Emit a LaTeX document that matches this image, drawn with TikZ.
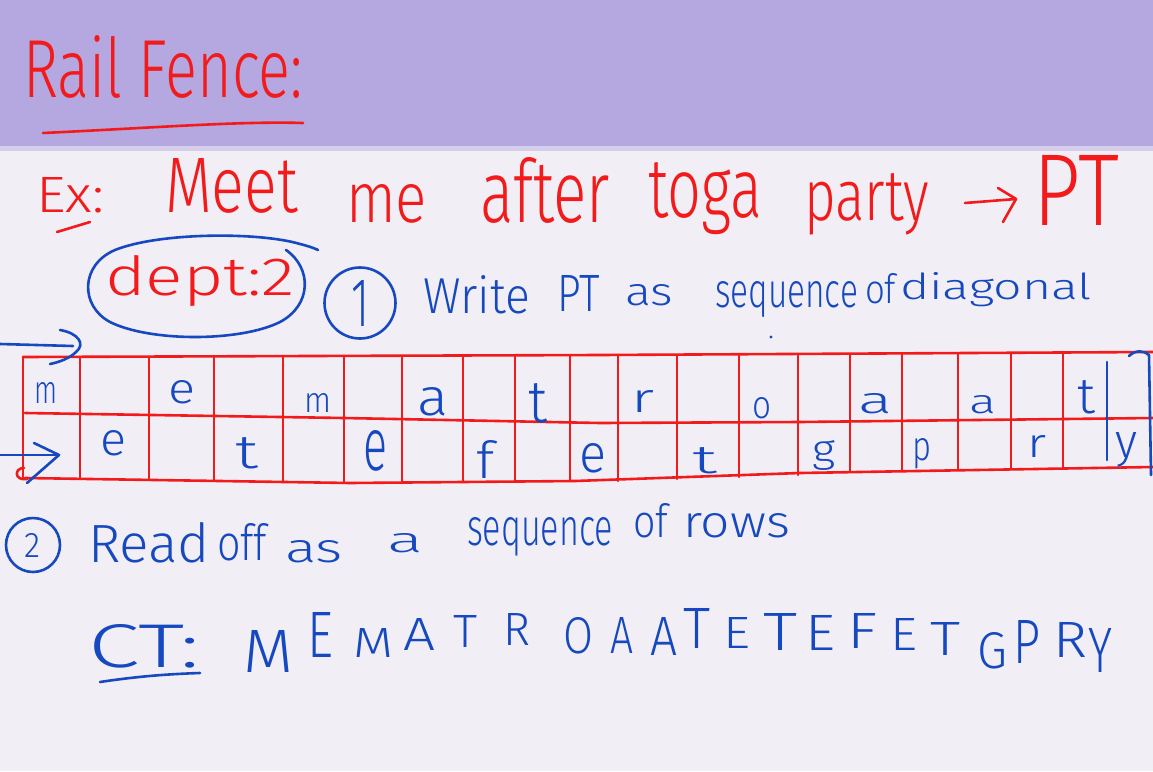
\documentclass[tikz,border=0pt]{standalone}
\usepackage{fontspec}
\usepackage{graphicx}
\IfFontExistsTF{Fira Sans Light}{\newfontfamily\hand{Fira Sans Light}}{%
  \IfFontExistsTF{Fira Sans ExtraLight}{\newfontfamily\hand{Fira Sans ExtraLight}}{\newfontfamily\hand{Fira Sans}}}
\definecolor{paper}{RGB}{241,239,245}
\definecolor{band}{RGB}{181,167,223}
\definecolor{rpen}{RGB}{242,26,26}
\definecolor{bpen}{RGB}{22,72,192}
\newcommand\hw[3]{\resizebox{#1pt}{#2pt}{\hand #3}}
\tikzset{
  every node/.style={inner sep=0pt, outer sep=0pt},
  redtxt/.style={text=rpen, anchor=base west},
  bluetxt/.style={text=bpen, anchor=base west},
  rline/.style={draw=rpen, line width=2.6pt, line cap=round, line join=round},
  bline/.style={draw=bpen, line width=2.6pt, line cap=round, line join=round},
  ring/.style={circle, draw=bpen, line width=2.6pt, text=bpen}
}
\begin{document}
\begin{tikzpicture}[x=1pt,y=-1pt]
\useasboundingbox (0,0) rectangle (1153,771);
% paper and header band
\fill[paper] (0,0) rectangle (1153,771);
\fill[band] (0,0) rectangle (1153,146);
\fill[band!45!paper] (0,146) rectangle (1153,151);

% title
\node[redtxt] (rail) at (23,97) {\hw{280}{62}{Rail Fence:}};
\draw[rline] (43,133) .. controls (150,128) and (240,121) .. (303,123);

% example line
\node[redtxt] (ex) at (36,212) {\hw{68}{35}{Ex:}};
\draw[rline] (57,232) -- (90,222);
\node[redtxt] (meet) at (165,212) {\hw{133}{54}{Meet}};
\node[redtxt] (me) at (346,222) {\hw{81}{38}{me}};
\node[redtxt] (after) at (480,222) {\hw{130}{65}{after}};
\node[redtxt] (toga) at (648,217) {\hw{114}{55}{toga}};
\node[redtxt] (party) at (804,220) {\hw{125}{47}{party}};
\node[redtxt] (pt) at (1033,225) {\hw{86}{70}{PT}};
\coordinate (arA) at (965,203);
\coordinate (arB) at (1016,199);
\draw[rline] (arA) -- (arB);
\draw[rline] (998,188) -- (arB) -- (1003,222);

% depth ellipse
\node[redtxt] (dept) at (105,295) {\hw{190}{40}{dept:2}};
\draw[bline] (286,250) .. controls (312,268) and (312,305) .. (280,322)
  .. controls (240,342) and (150,342) .. (110,322)
  .. controls (80,306) and (80,265) .. (115,250)
  .. controls (160,232) and (260,232) .. (300,244)
  .. controls (308,246) and (314,248) .. (318,250);

% step 1
\node[ring, minimum size=71pt] (one) at (360,303) {\hw{18}{46}{1}};
\node[bluetxt] (w1) at (423,313) {\hw{107}{38}{Write}};
\node[bluetxt] (w2) at (557,311) {\hw{43}{36}{PT}};
\node[bluetxt] (w3) at (625,305) {\hw{48}{21}{as}};
\node[bluetxt] (w4) at (715,307) {\hw{143}{26}{sequence}};
\node[bluetxt] (w5) at (865,303) {\hw{31}{30}{of}};
\node[bluetxt] (w6) at (900,299) {\hw{192}{27}{diagonal}};
\fill[bpen] (771,337) circle (1.6);

% rail grid
\draw[rline] (23,357) -- (600,355) -- (1153,352);
\draw[rline] (25,413) -- (344,418) -- (600,423) -- (800,422) -- (1153,418);
\draw[rline] (25,478) -- (350,483) -- (575,481) -- (800,473) -- (1153,467);
\foreach \xx/\ya/\yb in {23/357/478, 80/357/479, 149/357/480, 214/356/481,
  283/356/482, 344/356/483, 402/356/483, 463/355/482, 515/355/482,
  570/355/481, 618/355/481, 677/355/479, 739/354/477, 798/354/475,
  850/354/472, 902/353/471, 958/353/470, 1011/353/469, 1063/352/468}
  \draw[rline] (\xx,\ya) -- (\xx,\yb);
\draw[rline] (24,468) .. controls (14,468) and (14,481) .. (27,479);

% grid letters
\foreach \ch/\xl/\xr/\yt/\yb [count=\n] in {
  m/34/57/382/403, e/168/195/380/403, m/304/331/393/412, a/417/448/387/415,
  t/528/547/383/422, r/631/654/390/412, o/752/771/397/418, a/858/892/393/413,
  a/969/996/395/413, t/1077/1095/380/413,
  e/100/126/430/455, t/235/258/437/468, e/363/387/430/470, f/476/494/440/478,
  e/579/606/443/472, t/692/717/447/473, g/812/835/440/462, p/912/931/438/460,
  r/1027/1046/435/457, y/1115/1137/432/457}
{
  \pgfmathsetmacro\ww{\xr-\xl}
  \pgfmathsetmacro\hh{\yb-\yt}
  \node[bluetxt] (g\n) at (\xl,\yb) {\hw{\ww}{\hh}{\ch}};
}
\draw[bline] (1107,362) -- (1107,460);
\draw[bline] (1129,356) .. controls (1135,350) and (1144,350) .. (1149,355) -- (1151,475);

% row arrows
\coordinate (ta0) at (0,344);
\coordinate (ta1) at (73,346);
\draw[bline] (ta0) -- (ta1);
\draw[bline] (60,330) .. controls (78,333) and (86,344) .. (76,352) .. controls (70,358) and (60,362) .. (50,364);
\coordinate (ba0) at (0,455);
\coordinate (ba1) at (59,455);
\draw[bline] (ba0) -- (ba1);
\draw[bline] (34,443) -- (ba1) -- (27,483);

% step 2
\node[ring, minimum size=54pt] (two) at (33,545) {\hw{16}{24}{2}};
\node[bluetxt] (r1) at (88,562) {\hw{122}{40}{Read}};
\node[bluetxt] (r2) at (217,560) {\hw{50}{37}{off}};
\node[bluetxt] (r3) at (285,562) {\hw{58}{22}{as}};
\node[bluetxt] (r4) at (387,552) {\hw{36}{19}{a}};
\node[bluetxt] (r5) at (467,545) {\hw{146}{28}{sequence}};
\node[bluetxt] (r6) at (633,537) {\hw{35}{34}{of}};
\node[bluetxt] (r7) at (683,537) {\hw{107}{24}{rows}};

% cipher text
\node[bluetxt] (ct) at (88,667) {\hw{112}{43}{CT:}};
\draw[bline] (100,682) .. controls (140,676) and (170,674) .. (200,673);
\foreach \ch/\xl/\xr/\yt/\yb [count=\n] in {
  M/243/293/630/672, E/307/333/612/657, M/353/393/628/657, A/403/435/618/650,
  T/453/477/615/647, R/503/530/613/645, O/563/593/617/653, A/610/633/617/653,
  A/650/677/617/655, T/683/710/608/648, E/723/750/617/648, T/763/797/613/650,
  E/805/835/615/650, F/847/877/613/648, E/890/917/618/650, T/930/960/622/655,
  G/977/1007/632/668, P/1013/1040/620/663, R/1053/1087/622/657, Y/1088/1112/628/672}
{
  \pgfmathsetmacro\ww{\xr-\xl}
  \pgfmathsetmacro\hh{\yb-\yt}
  \node[bluetxt] (c\n) at (\xl,\yb) {\hw{\ww}{\hh}{\ch}};
}
\end{tikzpicture}
\end{document}
